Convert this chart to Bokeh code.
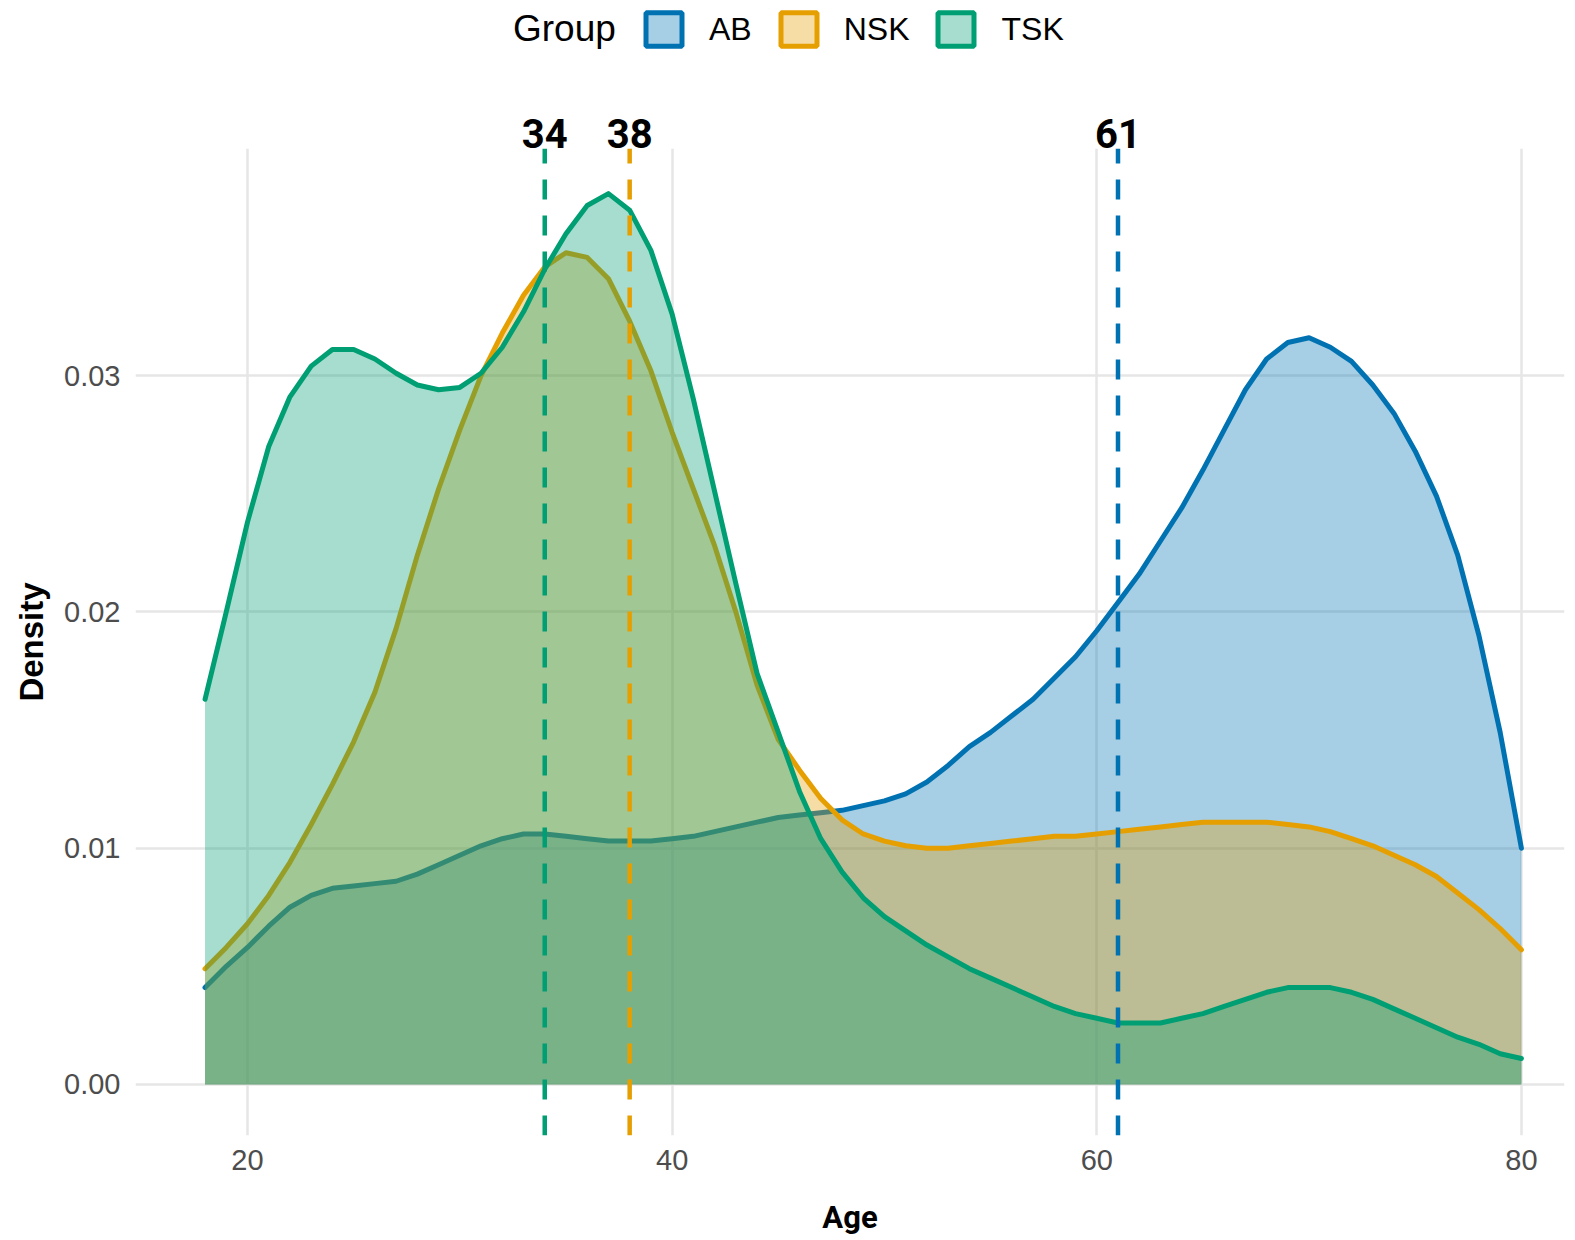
from bokeh.plotting import figure
from bokeh.layouts import column
from bokeh.models import (Range1d, FixedTicker, PrintfTickFormatter, Legend,
                          LegendItem, ColumnDataSource, LinearAxis)
from bokeh.embed import file_html
from bokeh.resources import INLINE

# ---------------- data ----------------
ages = list(range(18, 81))

ab = [0.0041, 0.0050, 0.0058, 0.0067, 0.0075, 0.0080, 0.0083, 0.0084, 0.0085, 0.0086,
      0.0089, 0.0093, 0.0097, 0.0101, 0.0104, 0.0106, 0.0106, 0.0105, 0.0104, 0.0103,
      0.0103, 0.0103, 0.0104, 0.0105, 0.0107, 0.0109, 0.0111, 0.0113, 0.0114, 0.0115,
      0.0116, 0.0118, 0.0120, 0.0123, 0.0128, 0.0135, 0.0143, 0.0149, 0.0156, 0.0163,
      0.0172, 0.0181, 0.0192, 0.0204, 0.0216, 0.0230, 0.0244, 0.0260, 0.0277, 0.0294,
      0.0307, 0.0314, 0.0316, 0.0312, 0.0306, 0.0296, 0.0284, 0.0268, 0.0249, 0.0224,
      0.0190, 0.0149, 0.0100]

nsk = [0.0049, 0.0058, 0.0068, 0.0080, 0.0094, 0.0110, 0.0127, 0.0145, 0.0166, 0.0193,
       0.0224, 0.0252, 0.0277, 0.0300, 0.0318, 0.0334, 0.0346, 0.0352, 0.0350, 0.0341,
       0.0323, 0.0302, 0.0276, 0.0252, 0.0228, 0.0200, 0.0169, 0.0146, 0.0133, 0.0121,
       0.0112, 0.0106, 0.0103, 0.0101, 0.0100, 0.0100, 0.0101, 0.0102, 0.0103, 0.0104,
       0.0105, 0.0105, 0.0106, 0.0107, 0.0108, 0.0109, 0.0110, 0.0111, 0.0111, 0.0111,
       0.0111, 0.0110, 0.0109, 0.0107, 0.0104, 0.0101, 0.0097, 0.0093, 0.0088, 0.0081,
       0.0074, 0.0066, 0.0057]

tsk = [0.0163, 0.0200, 0.0238, 0.0270, 0.0291, 0.0304, 0.0311, 0.0311, 0.0307, 0.0301,
       0.0296, 0.0294, 0.0295, 0.0301, 0.0312, 0.0327, 0.0345, 0.0360, 0.0372, 0.0377,
       0.0370, 0.0353, 0.0326, 0.0290, 0.0251, 0.0212, 0.0174, 0.0149, 0.0124, 0.0104,
       0.0090, 0.0079, 0.0071, 0.0065, 0.0059, 0.0054, 0.0049, 0.0045, 0.0041, 0.0037,
       0.0033, 0.0030, 0.0028, 0.0026, 0.0026, 0.0026, 0.0028, 0.0030, 0.0033, 0.0036,
       0.0039, 0.0041, 0.0041, 0.0041, 0.0039, 0.0036, 0.0032, 0.0028, 0.0024, 0.0020,
       0.0017, 0.0013, 0.0011]

groups = ["AB", "NSK", "TSK"]
colors = ["#0072B2", "#E69F00", "#009E73"]
medians = [61, 38, 34]
x_ticks = [20, 40, 60, 80]
y_ticks = [0.0, 0.01, 0.02, 0.03]
x_lo, x_hi = 14.725, 82.03
y_lo, y_hi = -0.00216, 0.03961

# ---------------- layout sizes ----------------
W = 1570
TOP_H = 86          # legend strip
MAIN_TOP = 62       # room above the panel for the median labels
MAIN_H = 1152
LEFT, RIGHT = 135, 6
NAN = float("nan")

xr = Range1d(x_lo, x_hi)

# ---------------- top strip: legend ----------------
top = figure(width=W, height=TOP_H, output_backend="svg", toolbar_location=None,
             x_range=xr, y_range=Range1d(0, TOP_H),
             x_axis_type=None, y_axis_type=None,
             min_border_left=LEFT, min_border_right=RIGHT,
             min_border_top=0, min_border_bottom=0)
top.outline_line_color = None
top.background_fill_color = "white"
top.border_fill_color = "white"

# legend-only renderers (a single NaN row: nothing is drawn in the plot)
dummy = top.quad(left=[NAN], right=[NAN], top=[NAN], bottom=[NAN],
                 fill_alpha=0, line_alpha=0)
title_leg = Legend(items=[LegendItem(label="Group", renderers=[dummy])],
                   location=(378, 36), orientation="horizontal",
                   glyph_width=0, glyph_height=42, label_height=42,
                   label_standoff=0, padding=0, margin=0, spacing=0,
                   border_line_alpha=0, background_fill_alpha=0,
                   label_text_font="Liberation Sans", label_text_font_size="37px",
                   label_text_color="black")
key_items = []
for g, c in zip(groups, colors):
    kr = top.quad(left=[NAN], right=[NAN], top=[NAN], bottom=[NAN], fill_color=c,
                  fill_alpha=0.35, line_color=c, line_width=5)
    key_items.append(LegendItem(label=g, renderers=[kr]))
key_leg = Legend(items=key_items, location=(506, 36), orientation="horizontal",
                 glyph_width=45, glyph_height=42, label_height=42,
                 label_standoff=23, padding=0, margin=0, spacing=24,
                 border_line_alpha=0, background_fill_alpha=0,
                 label_text_font="Liberation Sans", label_text_font_size="32px",
                 label_text_color="black")
top.add_layout(title_leg)
top.add_layout(key_leg)

# ---------------- main density plot ----------------
p = figure(width=W, height=MAIN_H, output_backend="svg", toolbar_location=None,
           x_range=xr, y_range=Range1d(y_lo, y_hi),
           min_border_left=LEFT, min_border_right=RIGHT, min_border_top=MAIN_TOP,
           min_border_bottom=103)
p.outline_line_color = None
p.background_fill_color = "white"
p.border_fill_color = "white"

p.xaxis.ticker = FixedTicker(ticks=x_ticks)
p.yaxis.ticker = FixedTicker(ticks=y_ticks)
p.yaxis.formatter = PrintfTickFormatter(format="%.2f")
for g in (p.xgrid[0], p.ygrid[0]):
    g.grid_line_color = "#E6E6E6"
    g.grid_line_width = 2.5
    g.minor_grid_line_color = None

for ax in (p.xaxis[0], p.yaxis[0]):
    ax.axis_line_color = None
    ax.major_tick_line_color = None
    ax.minor_tick_line_color = None
    ax.major_tick_out = 0
    ax.major_tick_in = 0
    ax.minor_tick_out = 0
    ax.minor_tick_in = 0
    ax.major_label_text_font = "Liberation Sans"
    ax.major_label_text_font_size = "29px"
    ax.major_label_text_color = "#4D4D4D"

p.xaxis.major_label_standoff = 14
p.yaxis.major_label_standoff = 15
p.xaxis.axis_label = "Age"
p.xaxis.axis_label_text_font = "Roboto"
p.xaxis.axis_label_text_font_style = "bold"
p.xaxis.axis_label_text_font_size = "31px"
p.xaxis.axis_label_text_color = "black"
p.xaxis.axis_label_standoff = 26
p.yaxis.axis_label = "Density"
p.yaxis.axis_label_text_font = "Liberation Sans"
p.yaxis.axis_label_text_font_style = "bold"
p.yaxis.axis_label_text_font_size = "33px"
p.yaxis.axis_label_text_color = "black"
p.yaxis.axis_label_standoff = 11

# median values shown above the panel, placed by an axis on the medians
med_axis = LinearAxis(ticker=FixedTicker(ticks=medians), axis_line_color=None,
                      major_tick_line_color=None, minor_tick_line_color=None,
                      major_tick_out=0, major_tick_in=0, minor_tick_out=0,
                      minor_tick_in=0, major_label_standoff=1,
                      major_label_text_font="Roboto",
                      major_label_text_font_style="bold",
                      major_label_text_font_size="40px",
                      major_label_text_color="black")
p.add_layout(med_axis, "above")

# densities: AB, NSK, TSK (drawn in that order)
for vals, c in zip([ab, nsk, tsk], colors):
    src = ColumnDataSource(dict(x=ages, y=vals, z=[0.0] * len(ages)))
    p.varea(x="x", y1="z", y2="y", source=src, fill_color=c, fill_alpha=0.35)
    p.line(x="x", y="y", source=src, line_color=c, line_width=5,
           line_join="round", line_cap="round")

# median dashed lines
msrc = ColumnDataSource(dict(x=medians, y0=[y_lo] * len(medians),
                             y1=[y_hi] * len(medians), c=colors))
p.segment(x0="x", y0="y0", x1="x", y1="y1", source=msrc, line_color="c",
          line_width=4.5, line_dash="20 16")

layout = column(top, p, spacing=0)
open("out.html", "w").write(file_html(layout, INLINE))
